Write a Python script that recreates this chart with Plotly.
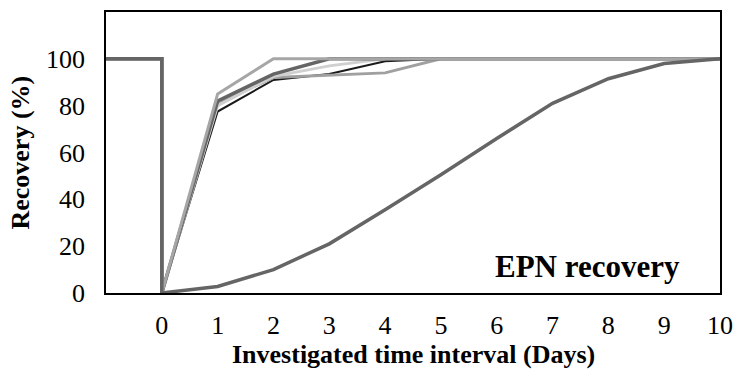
import plotly.graph_objects as go

days = [-1, 0, 0, 1, 2, 3, 4, 5, 6, 7, 8, 9, 10]
series_a = [100, 100, 0, 85, 100, 100, 100, 100, 100, 100, 100, 100, 100]
series_b = [100, 100, 0, 82, 93.5, 100, 100, 100, 100, 100, 100, 100, 100]
series_c = [100, 100, 0, 80, 92.5, 97, 100, 100, 100, 100, 100, 100, 100]
series_d = [100, 100, 0, 77.5, 91, 93.5, 99, 100, 100, 100, 100, 100, 100]
series_e = [100, 100, 0, 81, 92, 93, 94, 100, 100, 100, 100, 100, 100]
series_f = [100, 100, 0, 2.8, 10, 21, 35.5, 50.5, 66, 81, 91.5, 98, 100]

x_ticks = [0, 1, 2, 3, 4, 5, 6, 7, 8, 9, 10]
y_ticks = [0, 20, 40, 60, 80, 100]

SERIF = "Liberation Serif, Times New Roman, serif"

styles = [
    (series_d, "#1a1a1a", 2),
    (series_e, "#a0a0a0", 3),
    (series_c, "#d0d0d0", 3),
    (series_b, "#656565", 3.5),
    (series_a, "#a6a6a6", 3),
    (series_f, "#656565", 3.5),
]

fig = go.Figure()
for ys, col, w in styles:
    fig.add_trace(go.Scatter(x=days, y=ys, mode="lines",
                             line=dict(color=col, width=w),
                             showlegend=False, hoverinfo="skip"))

fig.add_annotation(x=7.63, y=11.5, xref="x", yref="y", text="<b>EPN recovery</b>",
                   showarrow=False, xanchor="center", yanchor="middle",
                   font=dict(family=SERIF, size=31, color="black"))
fig.add_annotation(x=0.5, y=-0.218, xref="paper", yref="paper",
                   text="<b>Investigated time interval (Days)</b>",
                   showarrow=False, xanchor="center", yanchor="middle",
                   font=dict(family=SERIF, size=26, color="black"))
fig.add_annotation(x=-0.14, y=0.5, xref="paper", yref="paper",
                   text="<b>Recovery (%)</b>", textangle=-90,
                   showarrow=False, xanchor="center", yanchor="middle",
                   font=dict(family=SERIF, size=26, color="black"))

fig.update_layout(
    width=736, height=371,
    margin=dict(l=106, r=16, t=12, b=78),
    paper_bgcolor="white", plot_bgcolor="white",
    font=dict(family=SERIF, size=26, color="black"),
    xaxis=dict(range=[-1, 10], tickvals=x_ticks, showgrid=False, zeroline=False,
               showline=True, mirror=True, linecolor="black", linewidth=1.5,
               ticks="", ticklabelstandoff=8, automargin=False),
    yaxis=dict(range=[0, 120], tickvals=y_ticks, showgrid=False, zeroline=False,
               showline=True, mirror=True, linecolor="black", linewidth=1.5,
               ticks="", ticklabelstandoff=14, automargin=False),
)

fig.write_html("out.html")
